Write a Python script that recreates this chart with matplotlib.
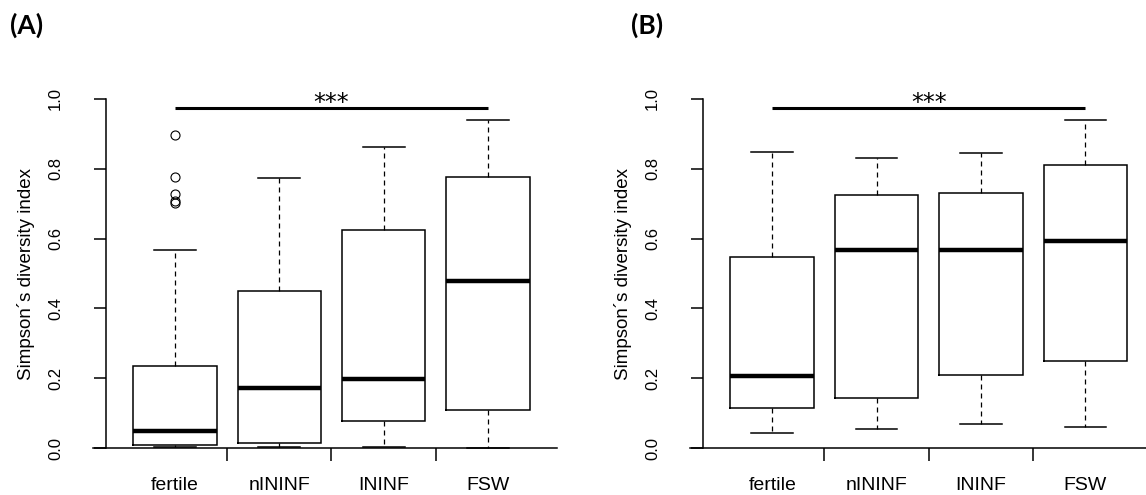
import matplotlib.pyplot as plt

# Categorias y valores (resumen de cada caja)
categories = ['fertile', 'nININF', 'ININF', 'FSW']
yticks = [0.0, 0.2, 0.4, 0.6, 0.8, 1.0]

# Panel A
a_q1 = [0.010, 0.013, 0.078, 0.109]
a_med = [0.049, 0.171, 0.197, 0.478]
a_q3 = [0.235, 0.450, 0.625, 0.776]
a_lo = [0.004, 0.002, 0.002, 0.000]
a_hi = [0.568, 0.775, 0.863, 0.940]
a_out = [[0.897, 0.777, 0.727, 0.708, 0.702], [], [], []]

# Panel B
b_q1 = [0.114, 0.144, 0.209, 0.249]
b_med = [0.206, 0.567, 0.567, 0.592]
b_q3 = [0.548, 0.725, 0.730, 0.812]
b_lo = [0.044, 0.054, 0.069, 0.060]
b_hi = [0.849, 0.831, 0.846, 0.940]
b_out = [[], [], [], []]

# Linea de significancia (grupo 1 vs grupo 4)
sig_pair = (1, 4)
sig_y = 0.975
sig_text = '***'

plt.rcParams['font.family'] = ['Liberation Sans', 'DejaVu Sans']

W, H = 1146, 495
fig = plt.figure(figsize=(W / 100, H / 100), dpi=100)
ax_a = fig.add_axes([106 / W, 33 / H, 451 / W, 377 / H])
ax_b = fig.add_axes([703.3 / W, 33 / H, 451 / W, 377 / H])


def draw_panel(ax, q1, med, q3, lo, hi, out):
    stats = []
    for i in range(len(categories)):
        stats.append(dict(q1=q1[i], med=med[i], q3=q3[i],
                          whislo=lo[i], whishi=hi[i], fliers=out[i]))
    pos = list(range(1, len(categories) + 1))
    ax.bxp(stats, positions=pos, widths=0.8, capwidths=0.4,
           boxprops=dict(color='black', linewidth=1.1, solid_joinstyle='miter'),
           medianprops=dict(color='black', linewidth=3.2, solid_capstyle='butt'),
           whiskerprops=dict(color='black', linewidth=0.9, linestyle=(0, (4, 3.2))),
           capprops=dict(color='black', linewidth=1.1),
           flierprops=dict(marker='o', markerfacecolor='none', markeredgecolor='black',
                           markersize=6.5, markeredgewidth=0.8))

    ax.set_xlim(0.34, 4.66)
    ax.set_ylim(-0.04, 1.04)

    # Ejes estilo R
    ax.spines['top'].set_visible(False)
    ax.spines['right'].set_visible(False)
    ax.spines['left'].set_bounds(0, 1)
    ax.spines['left'].set_linewidth(1.1)
    ax.spines['bottom'].set_position(('data', 0))
    ax.spines['bottom'].set_bounds(0.214, 4.66)
    ax.spines['bottom'].set_linewidth(1.1)

    ax.set_yticks(yticks)
    ax.set_yticklabels([f'{v:.1f}' for v in yticks])
    ax.tick_params(axis='y', length=9, width=1.1, pad=22, labelsize=12,
                   labelrotation=90, colors='black')
    for lab in ax.get_yticklabels():
        lab.set_va('center')

    ax.set_xticks(pos)
    ax.set_xticklabels(categories)
    ax.tick_params(axis='x', which='major', length=0, pad=21, labelsize=14)
    ax.set_xticks([1.5, 2.5, 3.5], minor=True)
    ax.tick_params(axis='x', which='minor', length=9, width=1.1)

    ax.text(-80 / 451, 0.5, 'Simpson\u00b4s diversity index', transform=ax.transAxes,
            rotation=90, ha='center', va='center', fontsize=13.5)

    # Significancia
    ax.plot(sig_pair, [sig_y, sig_y], color='black', linewidth=2.2,
            solid_capstyle='butt', clip_on=False)
    ax.text(sum(sig_pair) / 2, 0.968, sig_text, ha='center', va='baseline',
            fontsize=17, family='DejaVu Sans', clip_on=False)


draw_panel(ax_a, a_q1, a_med, a_q3, a_lo, a_hi, a_out)
draw_panel(ax_b, b_q1, b_med, b_q3, b_lo, b_hi, b_out)

fig.text(26.5 / W, 1 - 25.5 / H, '(A)', ha='center', va='center',
         fontsize=19, fontweight='bold', family='Lato')
fig.text(647.5 / W, 1 - 25.5 / H, '(B)', ha='center', va='center',
         fontsize=19, fontweight='bold', family='Lato')

plt.savefig('out.png', dpi=100)
